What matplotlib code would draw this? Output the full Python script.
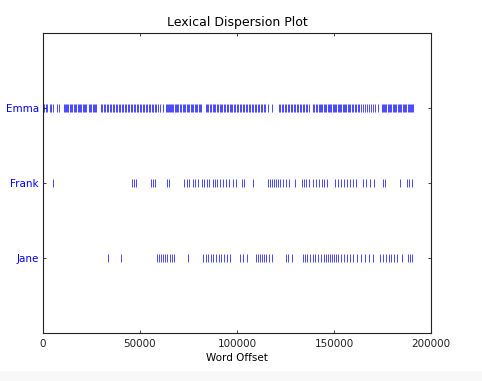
#!/usr/bin/env python3
# dispersion plot of three names across the text

import matplotlib
matplotlib.use("Agg")
import matplotlib.pyplot as plt
from matplotlib.patches import Rectangle

words = ["Jane", "Frank", "Emma"]

emma_offsets = [
    500, 1500, 2100, 3600, 4100, 5200, 7200, 8200,
    10800, 11300, 11900, 12400, 12900, 13900, 14400, 15000,
    16000, 16500, 17000, 18000, 18600, 19100, 19600, 20600,
    21100, 21700, 22200, 23700, 24200, 24700, 25800, 26300, 26800,
    27300,
    29900, 30400, 31400, 32000, 33000, 33500, 34500, 35100, 36100, 36600,
    37600, 38100, 39200, 39700, 40700, 41200, 42300, 42800, 43800, 44300,
    45400, 45900, 46900, 47400, 48500, 49000, 50000, 50500, 51500, 52100,
    53100, 53600, 54600, 55200, 56200, 56700, 57700, 58300, 59300, 60300,
    61900, 63400,
    63900, 64400, 65000, 65500, 66000, 66500, 67000, 68000, 68600, 69100,
    69600, 70600, 71100, 72200, 72700, 73200, 74200, 74700, 75300, 76300,
    76800, 77300, 78400, 78900, 79400, 80400, 80900, 81400,
    84000, 84500, 85100, 86100, 86600, 87600, 88200, 88700, 89700, 90200,
    91200, 91800, 92300, 93300, 93800, 94900, 95400, 96400, 96900, 97400,
    98500, 99000, 100000, 100500, 101600, 102100, 103100, 103600, 104600,
    105200, 106200, 106700, 107700, 108300, 109300, 109800, 110800, 111300,
    112400, 112900, 113900, 114400, 116000, 118000,
    121700, 122200, 123200, 123700, 124800, 125300, 126300, 126800, 127800,
    128400, 129400, 129900, 130900, 131500, 132500, 133000, 134000, 134500,
    135600, 136100, 137100,
    139200, 139700, 140700, 141200, 142300, 142800, 143300, 143800,
    144900, 145400, 145900, 146900, 147400, 148000, 148500,
    149500, 150000, 150500, 151100, 152100, 152600, 153100, 153600,
    154700, 155200, 155700, 156200, 157200, 157700, 158300,
    159300, 159800, 160800, 161400, 162400, 162900, 163900, 165000, 166000,
    167000, 168100, 169100, 170100, 171200, 172700,
    174800, 175300, 175800, 176300, 176800, 177800, 178400, 178900,
    179400, 180400, 180900, 181500, 182000, 183000, 183500,
    184000, 184500, 185600, 186100, 186600, 187100, 188200,
    188700, 189200, 189700, 190200, 190700,
]

frank_offsets = [
    5200, 45880, 46910, 47940, 55670, 56700, 57740, 63920, 64950,
    72690, 74230, 75260, 77320, 78350, 79900, 81960, 83000, 84540, 85570,
    87630, 88670, 89700, 91240, 92790, 94340, 95880, 97950, 99490, 102580,
    103620, 108260, 115990, 117020, 118050, 119080, 120110, 121140, 122170,
    123720, 125270, 126810, 129910, 133510, 134550, 135580, 137120, 139190,
    140730, 142280, 143820, 144860, 146400, 150530, 152070, 153620, 155170,
    156710, 158260, 159810, 161350, 164960, 166510, 168570, 170630, 175270,
    176300, 184030, 187640, 188670, 190220,
]

jane_offsets = [
    33510, 40210, 58770, 59800, 60830, 61860, 62890, 63920, 65470, 66500,
    67530, 74750, 82480, 84030, 85060, 86600, 87640, 89180, 90730, 91760,
    93310, 94850, 96400, 101550, 103100, 105160, 109800, 110830, 111860,
    112890, 113930, 114960, 116500, 118050, 125270, 126300, 128360, 134030,
    135060, 136090, 137640, 139190, 140220, 141760, 143310, 144860, 145890,
    146920, 147950, 148980, 150010, 151040, 152070, 153620, 155170, 156710,
    158260, 159810, 161870, 163930, 165990, 168050, 170120, 173720, 175270,
    176820, 178360, 179390, 180940, 182480, 185060, 188160, 189190, 190220,
]

x_ticks = [0, 50000, 100000, 150000, 200000]


def main():
    fig = plt.figure(figsize=(4.82, 3.81), dpi=100)
    fig.patch.set_facecolor("white")
    # light strip under the figure
    fig.patches.append(
        Rectangle((0, 0), 1, 10 / 381, transform=fig.transFigure,
                  facecolor="#f8f8f8", edgecolor="none", zorder=0)
    )

    ax = fig.add_axes([43 / 482, 48 / 381, 388 / 482, 300 / 381])

    rows = [jane_offsets, frank_offsets, emma_offsets]
    for i, offs in enumerate(rows):
        ax.plot(offs, [i] * len(offs), "b|", markersize=5.5,
                markeredgewidth=0.5, scalex=False)

    ax.set_xlim(0, 200000)
    ax.set_ylim(-1, len(words))
    ax.set_xticks(x_ticks)
    ax.set_xticklabels([str(t) for t in x_ticks], fontsize=7.5)
    ax.set_yticks(range(len(words)))
    ax.set_yticklabels(words, color="b", fontsize=7.5)

    ax.tick_params(direction="in", length=2.5, width=0.6, pad=3,
                   top=True, right=True, colors="#222222")
    ax.tick_params(axis="x", pad=4)
    for lab in ax.get_yticklabels():
        lab.set_color("b")
    for s in ax.spines.values():
        s.set_linewidth(0.8)
        s.set_color("#222222")

    ax.set_title("Lexical Dispersion Plot", fontsize=9, pad=5)
    ax.set_xlabel("Word Offset", fontsize=7.5, labelpad=3)

    fig.savefig("out.png", dpi=100)


if __name__ == "__main__":
    main()
